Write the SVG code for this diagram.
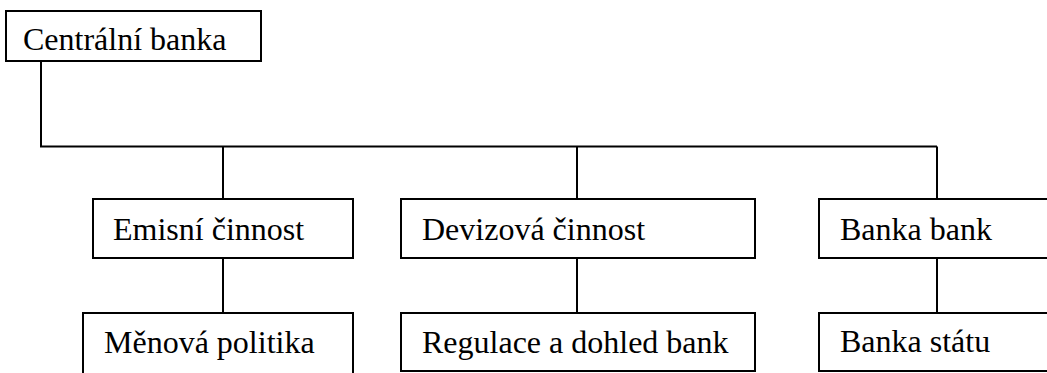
<svg xmlns="http://www.w3.org/2000/svg" width="1047" height="373" viewBox="0 0 1047 373">
  <style>
    .box { fill: #ffffff; stroke: #000000; stroke-width: 2; }
    .wire { fill: none; stroke: #000000; stroke-width: 2; }
    .lbl { font-family: "Liberation Serif", "Times New Roman", serif; font-size: 32px; fill: #000000; }
  </style>
  <rect width="1047" height="373" fill="#ffffff"/>

  <!-- tree wiring: trunk from the root box, bus line, and drops to each column -->
  <g id="connectors">
    <polyline class="wire" points="41,61 41,146.5 937,146.5"/>
    <line class="wire" x1="223" y1="146.5" x2="223" y2="199"/>
    <line class="wire" x1="577" y1="146.5" x2="577" y2="199"/>
    <line class="wire" x1="937" y1="146.5" x2="937" y2="199"/>
    <line class="wire" x1="223" y1="258" x2="223" y2="313"/>
    <line class="wire" x1="577" y1="258" x2="577" y2="313"/>
    <line class="wire" x1="937" y1="258" x2="937" y2="313"/>
  </g>

  <g id="centralni-banka">
    <rect class="box" x="6" y="11" width="255" height="50"/>
    <text class="lbl" x="23" y="50" font-family="Liberation Serif">Centrální banka</text>
  </g>

  <g id="emisni-cinnost">
    <rect class="box" x="93" y="199" width="260" height="59"/>
    <text class="lbl" x="113" y="240" font-family="Liberation Serif">Emisní činnost</text>
  </g>

  <g id="devizova-cinnost">
    <rect class="box" x="401" y="199" width="354" height="59"/>
    <text class="lbl" x="422" y="240" font-family="Liberation Serif">Devizová činnost</text>
  </g>

  <g id="banka-bank">
    <rect class="box" x="819" y="199" width="240" height="59"/>
    <text class="lbl" x="840" y="240" font-family="Liberation Serif">Banka bank</text>
  </g>

  <!-- lower row: the first and last boxes run past the edges of the page -->
  <g id="menova-politika">
    <rect class="box" x="83" y="313" width="270" height="70"/>
    <text class="lbl" x="104" y="353" font-family="Liberation Serif">Měnová politika</text>
  </g>

  <g id="regulace-a-dohled">
    <rect class="box" x="401" y="313" width="354" height="58"/>
    <text class="lbl" x="422" y="353" font-family="Liberation Serif">Regulace a dohled bank</text>
  </g>

  <g id="banka-statu">
    <rect class="box" x="819" y="313" width="240" height="58"/>
    <text class="lbl" x="840" y="352" font-family="Liberation Serif">Banka státu</text>
  </g>
</svg>
